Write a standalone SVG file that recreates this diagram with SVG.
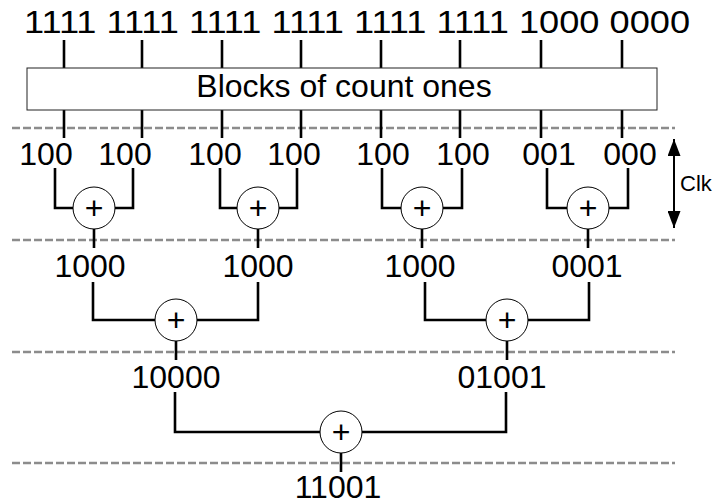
<svg xmlns="http://www.w3.org/2000/svg" width="715" height="504" viewBox="0 0 715 504">
  <defs>
    <style>
      .lbl { font-family: "Liberation Sans", Arial, sans-serif; font-size: 32px; fill: #000; text-anchor: middle; }
      .wire { fill: none; stroke: #000; stroke-width: 2.6; }
      .stage { stroke: #8c8c8c; stroke-width: 2.6; stroke-dasharray: 8 3; }
      .adder circle { fill: #fff; stroke: #000; stroke-width: 1; }
      .adder text { font-family: "Liberation Sans", Arial, sans-serif; font-size: 32px; text-anchor: middle; }
    </style>
    <marker id="head" viewBox="0 0 10 10" refX="10" refY="5" markerWidth="17" markerHeight="13" preserveAspectRatio="none" markerUnits="userSpaceOnUse" orient="auto-start-reverse">
      <path d="M0 0 L10 5 L0 10 Z" fill="#000"/>
    </marker>
  </defs>

  <rect width="715" height="504" fill="#fff"/>

  <!-- pipeline stage boundaries -->
  <g id="stages">
    <line class="stage" x1="12" y1="128" x2="675" y2="128"/>
    <line class="stage" x1="12" y1="240" x2="675" y2="240"/>
    <line class="stage" x1="12" y1="352" x2="675" y2="352"/>
    <line class="stage" x1="12" y1="463" x2="675" y2="463"/>
  </g>

  <!-- wiring between the blocks -->
  <g id="connectors">
    <!-- input bits into the counters -->
    <path class="wire" d="M64 40V68M142 40V68M222 40V68M301 40V68M381 40V68M460 40V68M541 40V68M622 40V68"/>
    <!-- counter outputs -->
    <path class="wire" d="M64 110V138M142 110V138M222 110V138M301 110V138M381 110V138M460 110V138M541 110V138M622 110V138"/>
    <!-- level 1 adders -->
    <path class="wire" d="M55 168V208H133V168"/>
    <path class="wire" d="M220 168V208H297V168"/>
    <path class="wire" d="M382 168V208H462V168"/>
    <path class="wire" d="M547 168V208H628V168"/>
    <path class="wire" d="M94 229V248M258 229V248M422 229V248M588 229V248"/>
    <!-- level 2 adders -->
    <path class="wire" d="M93 282V320H258V282"/>
    <path class="wire" d="M425 282V320H589V282"/>
    <path class="wire" d="M176 341V360M507 341V360"/>
    <!-- level 3 adder -->
    <path class="wire" d="M175 392V432H506V392"/>
    <path class="wire" d="M341 453V472"/>
  </g>

  <g id="input-bits">
    <text class="lbl" x="24" y="33" style="text-anchor:start" textLength="666" lengthAdjust="spacingAndGlyphs">1111 1111 1111 1111 1111 1111 1000 0000</text>
  </g>

  <g id="count-ones">
    <rect x="27" y="68" width="630" height="42" fill="#fff" stroke="#222" stroke-width="1"/>
    <text class="lbl" x="344" y="97">Blocks of count ones</text>
  </g>

  <g id="counts">
    <text class="lbl" x="46" y="165">100</text>
    <text class="lbl" x="125" y="165">100</text>
    <text class="lbl" x="215" y="165">100</text>
    <text class="lbl" x="294" y="165">100</text>
    <text class="lbl" x="383" y="165">100</text>
    <text class="lbl" x="463" y="165">100</text>
    <text class="lbl" x="549" y="165">001</text>
    <text class="lbl" x="630" y="165">000</text>
  </g>

  <g id="add-1a" class="adder"><circle cx="94" cy="208" r="21"/><text x="94" y="219">+</text></g>
  <g id="add-1b" class="adder"><circle cx="258" cy="208" r="21"/><text x="258" y="219">+</text></g>
  <g id="add-1c" class="adder"><circle cx="422" cy="208" r="21"/><text x="422" y="219">+</text></g>
  <g id="add-1d" class="adder"><circle cx="588" cy="208" r="21"/><text x="588" y="219">+</text></g>

  <g id="sums-1">
    <text class="lbl" x="90" y="277">1000</text>
    <text class="lbl" x="258" y="277">1000</text>
    <text class="lbl" x="420" y="277">1000</text>
    <text class="lbl" x="587" y="277">0001</text>
  </g>

  <g id="add-2a" class="adder"><circle cx="176" cy="320" r="21"/><text x="176" y="331">+</text></g>
  <g id="add-2b" class="adder"><circle cx="507" cy="320" r="21"/><text x="507" y="331">+</text></g>

  <g id="sums-2">
    <text class="lbl" x="176" y="388">10000</text>
    <text class="lbl" x="502" y="388">01001</text>
  </g>

  <g id="add-3" class="adder"><circle cx="341" cy="432" r="21"/><text x="341" y="443">+</text></g>

  <g id="total">
    <text class="lbl" x="338" y="498">11001</text>
  </g>

  <!-- one clock period -->
  <g id="clk">
    <line x1="674" y1="139" x2="674" y2="228" stroke="#000" stroke-width="2" marker-start="url(#head)" marker-end="url(#head)"/>
    <text x="680" y="191" font-family="'Liberation Sans', Arial, sans-serif" font-size="22">Clk</text>
  </g>
</svg>
